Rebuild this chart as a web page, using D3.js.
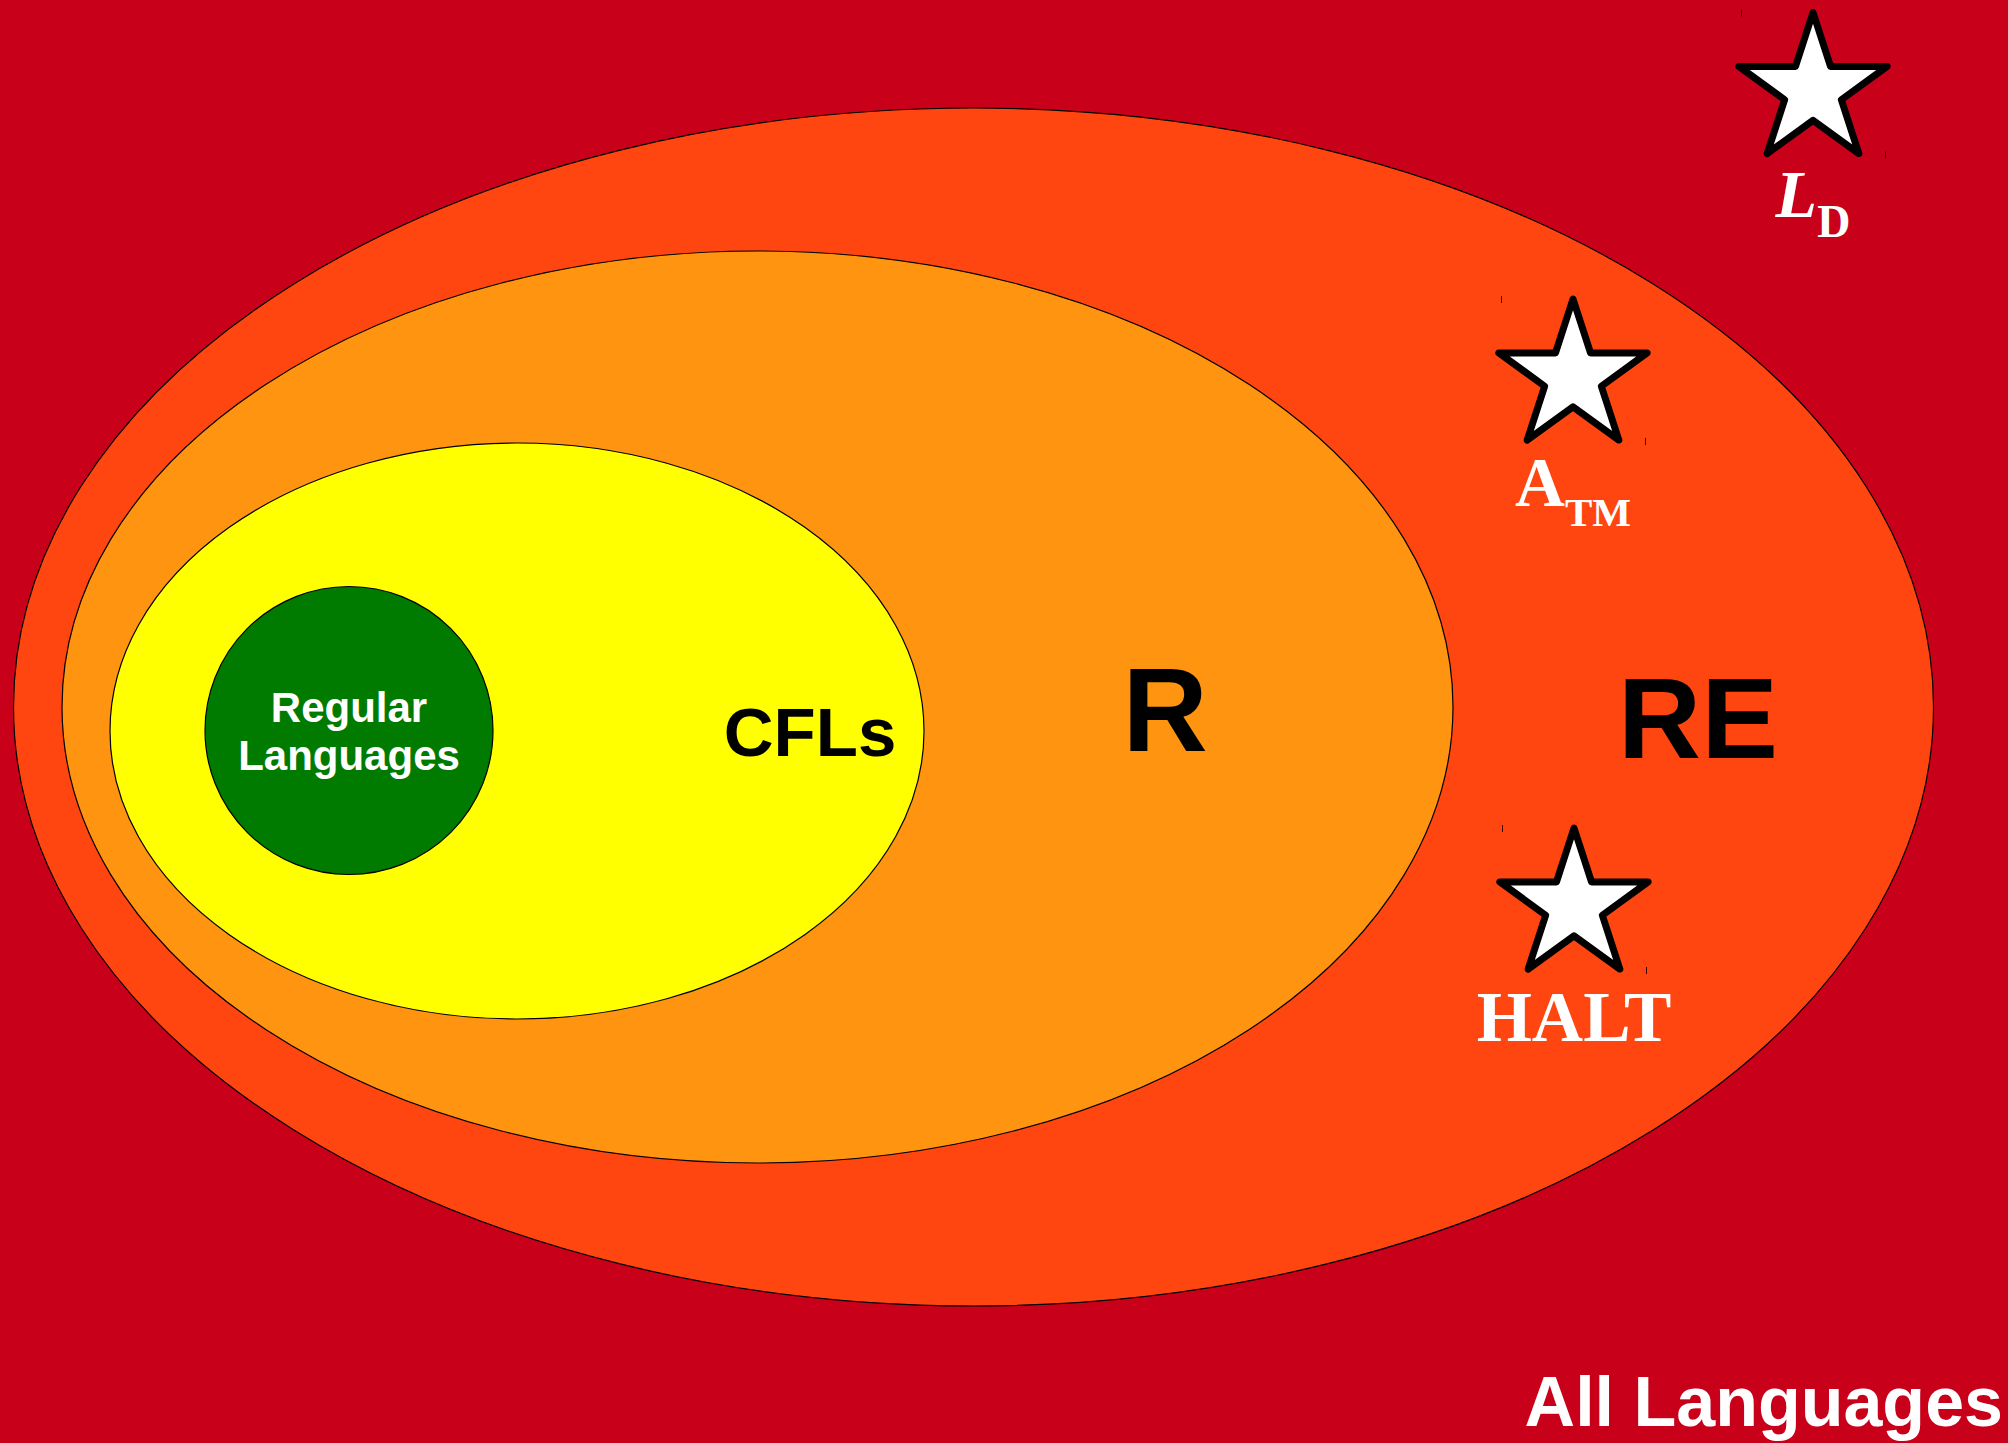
<!DOCTYPE html>
<html>
<head>
<meta charset="utf-8">
<script src="https://cdn.jsdelivr.net/npm/d3@7"></script>
<style>
  html, body { margin: 0; padding: 0; background: #c9001a; overflow: hidden; }
  svg { display: block; }
</style>
</head>
<body>
<svg id="chart"></svg>
<script>
// language classes, outermost first
const classNames = ["RE", "R", "CFLs", "Regular Languages"];
const classColors = ["#ff4611", "#ff9410", "#ffff00", "#007b00"];
const classTextColors = ["#000", "#000", "#000", "#fff"];
// famous languages marked with a star: [main, subscript]
const starNames = [["L", "D"], ["A", "TM"], ["HALT", ""]];
const universeLabel = "All Languages";
const universeColor = "#c9001a";

// layout, in pixels of the 2008x1443 page
const W = 2008, H = 1443;
const regions = [
  {cx: 973.5, cy: 707, rx: 960, ry: 599, lx: 1698, ly: 758, size: 115},
  {cx: 757.5, cy: 707, rx: 695.5, ry: 456, lx: 1165, ly: 751, size: 118},
  {cx: 517, cy: 731, rx: 407, ry: 288, lx: 810, ly: 756, size: 69},
  {cx: 349, cy: 730.5, rx: 144, ry: 144, lx: 349, ly: 722, size: 42}
];
const stars = [
  {x: 1813, y: 90.5, ly: 217, size: 68, sub: 46, dy: 20, italic: true},
  {x: 1573, y: 377, ly: 506, size: 69, sub: 41, dy: 20, italic: false},
  {x: 1574, y: 906, ly: 1041, size: 71, sub: 0, dy: 0, italic: false}
];
const starR = 78;

const svg = d3.select("#chart")
  .attr("width", W)
  .attr("height", H);

svg.append("rect")
  .attr("width", W)
  .attr("height", H)
  .attr("fill", universeColor);

svg.selectAll("ellipse.cls")
  .data(classNames)
  .join("ellipse")
  .attr("class", "cls")
  .attr("cx", (d, i) => regions[i].cx)
  .attr("cy", (d, i) => regions[i].cy)
  .attr("rx", (d, i) => regions[i].rx)
  .attr("ry", (d, i) => regions[i].ry)
  .attr("fill", (d, i) => classColors[i])
  .attr("stroke", "#000")
  .attr("stroke-width", 1.2);

// class labels
classNames.forEach(function(name, i) {
  const r = regions[i];
  const t = svg.append("text")
    .attr("x", r.lx)
    .attr("y", r.ly)
    .attr("text-anchor", "middle")
    .attr("font-family", "'Liberation Sans', Arial, sans-serif")
    .attr("font-weight", "bold")
    .attr("font-size", r.size)
    .attr("fill", classTextColors[i]);
  const words = name.split(" ");
  if (words.length > 1) {
    words.forEach(function(w, j) {
      t.append("tspan")
        .attr("x", r.lx)
        .attr("dy", j == 0 ? 0 : r.size * 1.14)
        .text(w);
    });
  } else {
    t.text(name);
  }
});

// stars
const starPoints = d3.range(10).map(k => [k * Math.PI / 5, k % 2 == 0 ? starR : starR * 0.382]);
const starLine = d3.lineRadial()
  .angle(d => d[0])
  .radius(d => d[1])
  .curve(d3.curveLinearClosed);

stars.forEach(function(s, i) {
  svg.append("path")
    .attr("transform", `translate(${s.x},${s.y})`)
    .attr("d", starLine(starPoints))
    .attr("fill", "#fff")
    .attr("stroke", "#000")
    .attr("stroke-width", 7)
    .attr("stroke-linejoin", "round");

  // little corner ticks left over from the star's box
  [[-72, -81, -74], [72, 61, 68]].forEach(function(m) {
    svg.append("line")
      .attr("x1", s.x + m[0] + 0.5).attr("x2", s.x + m[0] + 0.5)
      .attr("y1", s.y + m[1]).attr("y2", s.y + m[2])
      .attr("stroke", "#3a0000")
      .attr("stroke-width", 1);
  });

  const t = svg.append("text")
    .attr("x", s.x)
    .attr("y", s.ly)
    .attr("text-anchor", "middle")
    .attr("font-family", "'Liberation Serif', 'Times New Roman', serif")
    .attr("font-weight", "bold")
    .attr("fill", "#fff");
  t.append("tspan")
    .attr("font-size", s.size)
    .attr("font-style", s.italic ? "italic" : "normal")
    .text(starNames[i][0]);
  if (starNames[i][1]) {
    t.append("tspan")
      .attr("font-size", s.sub)
      .attr("dy", s.dy)
      .text(starNames[i][1]);
  }
});

svg.append("text")
  .attr("x", 2003)
  .attr("y", 1426)
  .attr("text-anchor", "end")
  .attr("font-family", "'Liberation Sans', Arial, sans-serif")
  .attr("font-weight", "bold")
  .attr("font-size", 70)
  .attr("fill", "#fff")
  .text(universeLabel);
</script>
</body>
</html>
